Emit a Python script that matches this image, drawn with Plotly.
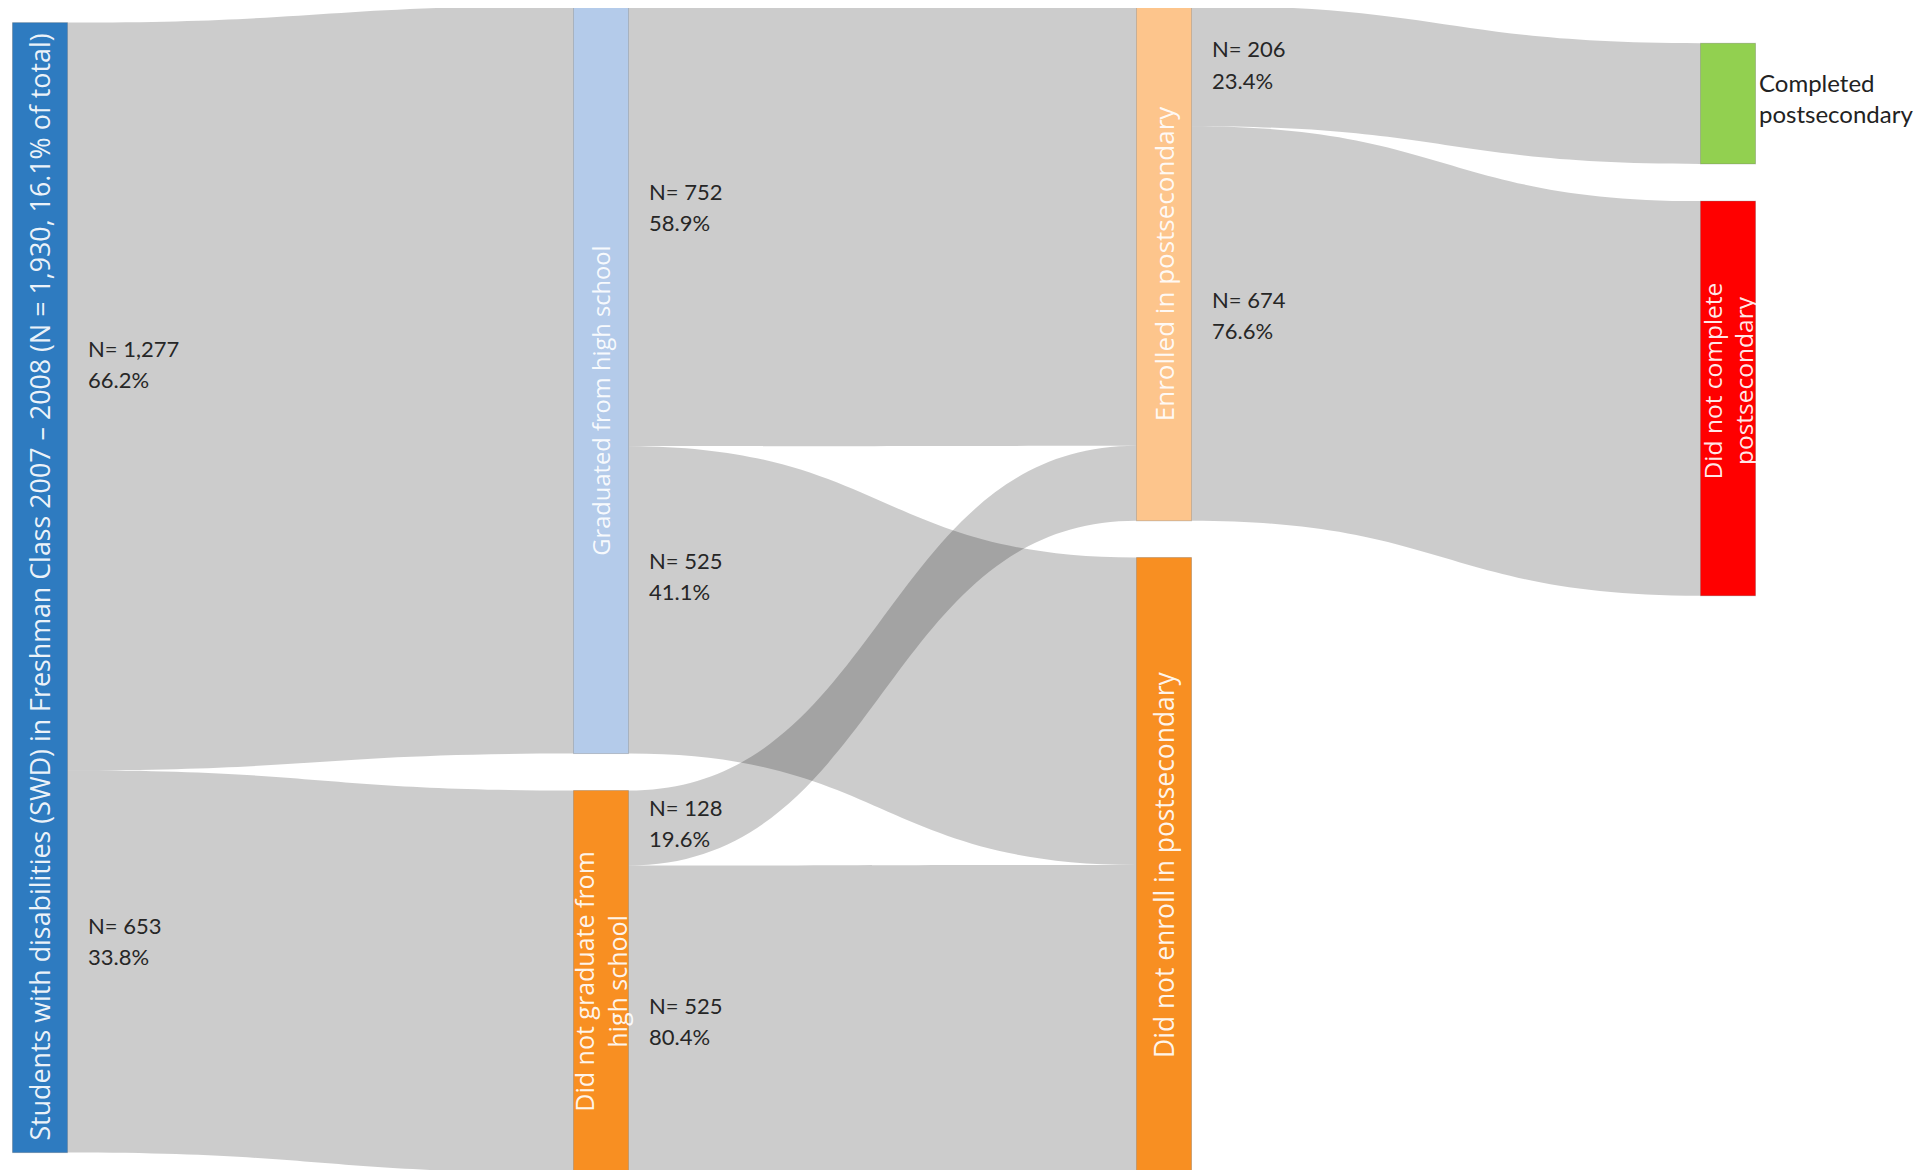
import plotly.graph_objects as go

# ---------------- data ----------------
node_names = [
    "Students with disabilities (SWD) in Freshman Class 2007 – 2008 (N = 1,930, 16.1% of total)",
    "Graduated from high school",
    "Did not graduate from<br>high school",
    "Enrolled in postsecondary",
    "Did not enroll in postsecondary",
    "Completed<br>postsecondary",
    "Did not complete<br>postsecondary",
]
link_source = [0, 0, 1, 1, 2, 2, 3, 3]
link_target = [1, 2, 3, 4, 3, 4, 5, 6]
link_value = [1277, 653, 752, 525, 128, 525, 206, 674]
link_pct = [66.2, 33.8, 58.9, 41.1, 19.6, 80.4, 23.4, 76.6]

# ---------------- layout / style ----------------
W, H = 1927, 1170
NODE_PAD = 40
NODE_THICK = 55
NODE_X = [32 / W, 593 / W, 593 / W, 1156 / W, 1156 / W, 1720 / W, 1720 / W]
NODE_Y = [0.4954, 0.3177, 0.8322, 0.2181, 0.7324, 0.0817, 0.3337]
NODE_COLORS = ["#2E7BC0", "#B4CBEA", "#F88F22", "#FDC58C", "#F88F22", "#92D050", "#FF0000"]
NODE_FONT_SIZE = [26.8, 23.7, 25, 26, 26.4, 24, 24.5]
NODE_LABEL_NUDGE = [0, 21, 0, 0, 0, -6, -17]
LINK_LABEL_Y = [356, 933, 199, 568, 815, 1013, 56.5, 307]   # label block centres (px)
LINK_COLOR = "rgba(0,0,0,0.2)"
LABEL_FONT = "Open Sans"
NUM_FONT = "Lato"

n_nodes = len(node_names)

fig = go.Figure(go.Sankey(
    arrangement="fixed",
    domain=dict(x=[0, 1], y=[0, 1]),
    node=dict(
        label=[""] * n_nodes,
        customdata=[n.replace("<br>", " ") for n in node_names],
        hovertemplate="%{customdata}: %{value}<extra></extra>",
        x=NODE_X, y=NODE_Y,
        pad=NODE_PAD, thickness=NODE_THICK,
        color=NODE_COLORS,
        line=dict(color="rgba(0,0,0,0.18)", width=1),
        align="left",
    ),
    link=dict(source=link_source, target=link_target, value=link_value,
              color=LINK_COLOR),
))

annotations = []
# node labels
for i, name in enumerate(node_names):
    cx = NODE_X[i] * W
    cy = NODE_Y[i] * H + NODE_LABEL_NUDGE[i]
    if i == 5:
        annotations.append(dict(
            x=(cx + NODE_THICK / 2 + 1) / W, y=1 - cy / H, xref="paper", yref="paper",
            text=name, showarrow=False, xanchor="left", yanchor="middle", align="left",
            font=dict(family=NUM_FONT, size=NODE_FONT_SIZE[i], color="#222222")))
    else:
        annotations.append(dict(
            x=cx / W, y=1 - cy / H, xref="paper", yref="paper",
            text=name, showarrow=False, textangle=-90, xanchor="center", yanchor="middle",
            align="center",
            font=dict(family=LABEL_FONT, size=NODE_FONT_SIZE[i], color="rgba(255,255,255,0.92)")))

# link labels (near the source end of each band): count line and percent line
for s, v, p, ly in zip(link_source, link_value, link_pct, LINK_LABEL_Y):
    x = NODE_X[s] * W + NODE_THICK / 2 + 18
    for txt, dy in ((f"N= {v:,}", -15.5), (f"{p:.1f}%", 15.5)):
        annotations.append(dict(
            x=x / W, y=1 - (ly + dy) / H, xref="paper", yref="paper",
            text=txt, showarrow=False, xanchor="left", yanchor="middle", align="left",
            font=dict(family=NUM_FONT, size=22, color="#262626")))

fig.update_layout(
    width=W, height=H,
    margin=dict(l=0, r=0, t=0, b=0),
    paper_bgcolor="white", plot_bgcolor="white",
    annotations=annotations,
)

fig.write_html("out.html")
